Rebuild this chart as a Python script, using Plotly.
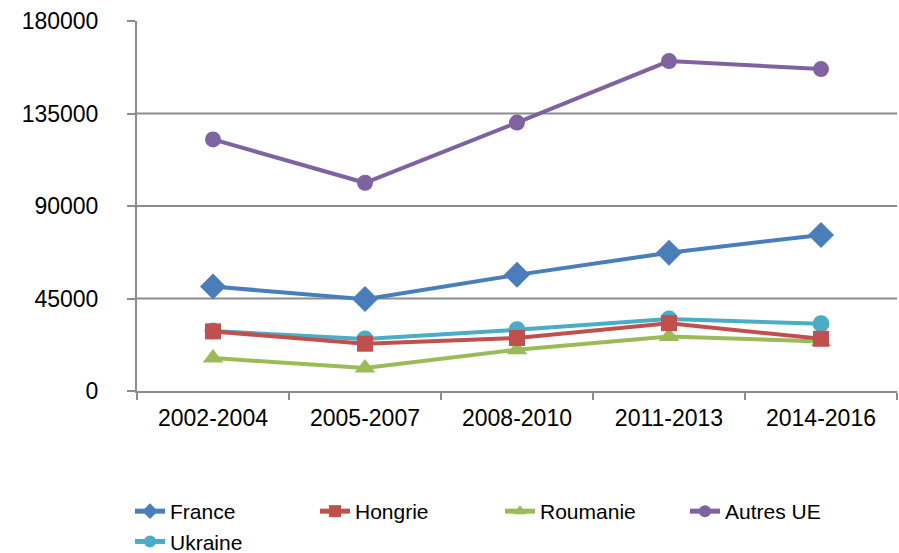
import plotly.graph_objects as go

periods = ["2002-2004", "2005-2007", "2008-2010", "2011-2013", "2014-2016"]
france = [50800, 44700, 56500, 67300, 75900]
hongrie = [29000, 23000, 25800, 33000, 25400]
roumanie = [16000, 11200, 20100, 26500, 24100]
autres_ue = [122400, 101300, 130600, 160500, 156600]
ukraine = [29200, 25300, 29800, 35000, 32700]

y_ticks = [0, 45000, 90000, 135000, 180000]
grid_lines = [45000, 90000, 135000]

GRID = "#8c8c8c"
FONT = "Liberation Sans, Arial, sans-serif"

# (name, values, colour, symbol, size, legend rank); listed in drawing order
series = [
    ("France", france, "#4a7ebb", "diamond", 20, 1),
    ("Autres UE", autres_ue, "#7f63a1", "circle", 16, 4),
    ("Roumanie", roumanie, "#9bbb59", "triangle-up", 18, 3),
    ("Ukraine", ukraine, "#4bacc6", "circle", 17, 5),
    ("Hongrie", hongrie, "#c0504d", "square", 16, 2),
]

fig = go.Figure()

for name, vals, color, symbol, size, rank in series:
    fig.add_trace(go.Scatter(
        x=periods, y=vals,
        mode="lines+markers", name=name,
        line=dict(color=color, width=4),
        marker=dict(symbol=symbol, size=size, color=color, line=dict(width=0)),
        legendrank=rank,
    ))

for g in grid_lines:
    fig.add_hline(y=g, line_color=GRID, line_width=2, layer="below")

fig.update_layout(
    width=899, height=553,
    margin=dict(l=137, r=2, t=21, b=162, autoexpand=False),
    plot_bgcolor="white",
    paper_bgcolor="white",
    font=dict(family=FONT, size=23, color="black"),
    showlegend=True,
    legend=dict(
        orientation="h",
        xref="container", yref="container",
        x=130 / 899, y=(553 - 491) / 553,
        xanchor="left", yanchor="top",
        entrywidth=140, entrywidthmode="pixels",
        font=dict(family=FONT, size=21, color="black"),
        tracegroupgap=0,
        itemsizing="constant",
    ),
)
fig.update_xaxes(
    type="category",
    range=[-0.5, len(periods) - 0.5],
    showgrid=False,
    showline=True, linecolor=GRID, linewidth=2,
    ticks="outside", tickson="boundaries", ticklen=7, tickwidth=2, tickcolor=GRID,
    ticklabelstandoff=5,
    tickfont=dict(family=FONT, size=23, color="black"),
)
fig.update_yaxes(
    range=[0, 180000],
    tickvals=y_ticks,
    ticktext=[str(v) for v in y_ticks],
    showgrid=False, zeroline=False,
    showline=True, linecolor=GRID, linewidth=2,
    ticks="outside", ticklen=8, tickwidth=2, tickcolor=GRID,
    ticklabelstandoff=24,
    tickfont=dict(family=FONT, size=23, color="black"),
)

# the page body has a default 8px margin; drop it so the figure sits at 0,0
fig.write_html(
    "out.html",
    config={"displayModeBar": False},
    post_script="document.body.style.margin = '0';",
)
